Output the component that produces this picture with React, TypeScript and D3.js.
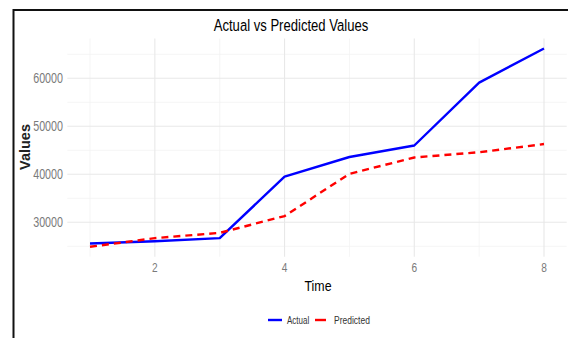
import React from "react";
import * as d3 from "d3";

const times = [1, 2, 3, 4, 5, 6, 7, 8];
const actual = [25600, 26050, 26700, 39500, 43600, 46000, 59100, 66200];
const predicted = [24900, 26700, 27800, 31300, 40100, 43500, 44600, 46300];
const xTicks = [2, 4, 6, 8];
const xMinor = [1, 3, 5, 7];
const yTicks = [30000, 40000, 50000, 60000];
const yMinor = [25000, 35000, 45000, 55000, 65000];

const W = 568;
const H = 338;
const FONT = "'Liberation Sans', Arial, sans-serif";

function expand(ext: [number, number]): [number, number] {
  const pad = (ext[1] - ext[0]) * 0.05;
  return [ext[0] - pad, ext[1] + pad];
}

function SText(props: {
  x: number; y: number; sx?: number; size: number; anchor?: string;
  fill?: string; weight?: string | number; children: React.ReactNode; rotate?: number;
}) {
  const { x, y, sx = 0.76, size, anchor = "middle", fill = "#000", weight = "normal", rotate = 0 } = props;
  return (
    <text
      transform={`translate(${x},${y}) rotate(${rotate}) scale(${sx},1)`}
      fontSize={size}
      fontFamily={FONT}
      textAnchor={anchor}
      fill={fill}
      fontWeight={weight}
    >
      {props.children}
    </text>
  );
}

export default function App() {
  const left = 67.3, right = 566.7, top = 38.6, bottom = 256.7;
  const x = d3.scaleLinear().domain(expand(d3.extent(times) as [number, number])).range([left, right]);
  const all = actual.concat(predicted);
  const y = d3.scaleLinear().domain(expand(d3.extent(all) as [number, number])).range([bottom, top]);

  const line = d3
    .line<number>()
    .x((_, i) => x(times[i]))
    .y((d) => y(d));

  return (
    <svg width={W} height={H} style={{ position: "absolute", left: 0, top: 0, background: "#fff" }}>
      <rect x={0} y={0} width={W} height={H} fill="#fff" />
      {/* frame */}
      <rect x={13.5} y={10} width={700} height={500} fill="none" stroke="#111" strokeWidth={2} />
      {/* minor grid */}
      {yMinor.map((v) => (
        <line key={"ym" + v} x1={left} x2={right} y1={y(v)} y2={y(v)} stroke="#f3f3f3" strokeWidth={0.8} />
      ))}
      {xMinor.map((v) => (
        <line key={"xm" + v} x1={x(v)} x2={x(v)} y1={top} y2={bottom} stroke="#f3f3f3" strokeWidth={0.8} />
      ))}
      {/* major grid */}
      {yTicks.map((v) => (
        <line key={"y" + v} x1={left} x2={right} y1={y(v)} y2={y(v)} stroke="#e8e8e8" strokeWidth={1.1} />
      ))}
      {xTicks.map((v) => (
        <line key={"x" + v} x1={x(v)} x2={x(v)} y1={top} y2={bottom} stroke="#e8e8e8" strokeWidth={1.1} />
      ))}
      {/* lines */}
      <path d={line(actual) || ""} fill="none" stroke="#0000ff" strokeWidth={2.4} strokeLinejoin="round" />
      <path d={line(predicted) || ""} fill="none" stroke="#ff0000" strokeWidth={2.4} strokeDasharray="7,5" />
      {/* y tick labels */}
      {yTicks.map((v) => (
        <SText key={"yl" + v} x={63} y={y(v) + 5} size={14.5} sx={0.74} anchor="end" fill="#7a7a7a">
          {d3.format("d")(v)}
        </SText>
      ))}
      {/* x tick labels */}
      {xTicks.map((v) => (
        <SText key={"xl" + v} x={x(v)} y={272} size={13} sx={0.78} fill="#7a7a7a">
          {v}
        </SText>
      ))}
      {/* titles */}
      <SText x={291} y={31} size={17} sx={0.77}>Actual vs Predicted Values</SText>
      <SText x={318} y={291} size={15.5} sx={0.8}>Time</SText>
      <SText x={30} y={147} size={14.5} sx={1} rotate={-90} weight="bold" fill="#222">Values</SText>
      {/* legend */}
      <line x1={268} x2={282} y1={320} y2={320} stroke="#0000ff" strokeWidth={2.4} />
      <SText x={287} y={323.5} size={10} sx={0.8} anchor="start" fill="#333">Actual</SText>
      <line x1={315} x2={326} y1={320} y2={320} stroke="#ff0000" strokeWidth={2.4} />
      <SText x={334} y={323.5} size={10} sx={0.85} anchor="start" fill="#333">Predicted</SText>
    </svg>
  );
}
